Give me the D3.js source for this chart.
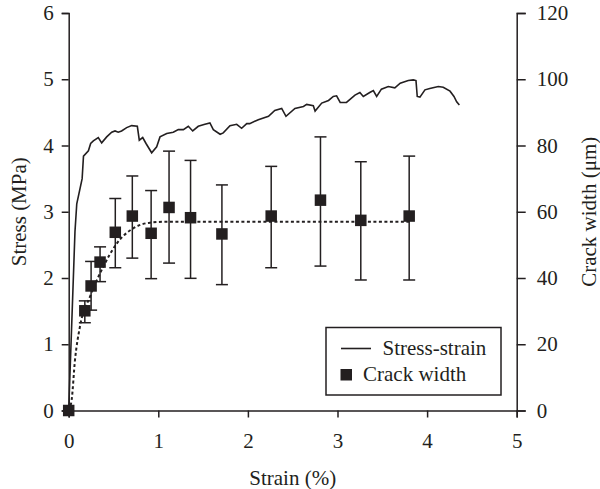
<!DOCTYPE html>
<html>

<head>
  <meta charset="utf-8">
  <script src="https://d3js.org/d3.v7.min.js"></script>
</head>
<style>
  body {
    margin: 0;
    background: #fff;
  }

  svg {
    width: 600px;
    height: 489px;
    display: block;
  }

  text {
    font-family: "Liberation Serif", "Times New Roman", serif;
    font-size: 21px;
    fill: #231f20;
  }

  .axis path,
  .axis line {
    stroke: #231f20;
    stroke-width: 1.5px;
  }

  .stress {
    fill: none;
    stroke: #231f20;
    stroke-width: 1.6px;
  }

  .fit {
    fill: none;
    stroke: #231f20;
    stroke-width: 2px;
    stroke-dasharray: 3 2.5;
  }

  .err {
    stroke: #231f20;
    stroke-width: 1.5px;
  }
</style>

<body>
  <svg id="chart"></svg>
  <script>
    // stress-strain curve: [strain %, stress MPa]
    const stressStrain = [
      [0, 0], [0.07, 2.7], [0.09, 3.12], [0.15, 3.5], [0.165, 3.84], [0.22, 3.92], [0.245, 4.03],
      [0.275, 4.07], [0.33, 4.12], [0.368, 4.04], [0.424, 4.13], [0.48, 4.2], [0.517, 4.22],
      [0.553, 4.2], [0.59, 4.22], [0.647, 4.27], [0.703, 4.3], [0.766, 4.29], [0.788, 4.08],
      [0.826, 4.12], [0.863, 4.03], [0.926, 3.89], [0.982, 3.98], [1.019, 4.13], [1.094, 4.18],
      [1.167, 4.2], [1.223, 4.24], [1.28, 4.24], [1.335, 4.29], [1.384, 4.22], [1.446, 4.29],
      [1.52, 4.32], [1.576, 4.34], [1.614, 4.24], [1.69, 4.17], [1.725, 4.19], [1.8, 4.3],
      [1.875, 4.32], [1.93, 4.26], [1.987, 4.33], [2.02, 4.33], [2.116, 4.39], [2.23, 4.44],
      [2.3, 4.53], [2.377, 4.56], [2.425, 4.44], [2.525, 4.56], [2.62, 4.59], [2.656, 4.62],
      [2.73, 4.6], [2.75, 4.52], [2.824, 4.64], [2.9, 4.68], [2.953, 4.74], [2.99, 4.75],
      [3.03, 4.65], [3.1, 4.65], [3.195, 4.76], [3.25, 4.8], [3.288, 4.74], [3.36, 4.8],
      [3.4, 4.83], [3.437, 4.74], [3.49, 4.85], [3.567, 4.89], [3.64, 4.87], [3.7, 4.94],
      [3.79, 4.98], [3.846, 4.99], [3.876, 4.98], [3.89, 4.74], [3.92, 4.73], [3.976, 4.84],
      [4.03, 4.86], [4.125, 4.89], [4.18, 4.88], [4.256, 4.82], [4.3, 4.74], [4.33, 4.66],
      [4.36, 4.61]
    ];

    // crack width: strain %, mean, low, high (um)
    const crackStrain = [0, 0.18, 0.25, 0.35, 0.52, 0.71, 0.92, 1.12, 1.36, 1.71, 2.26, 2.81, 3.26, 3.80];
    const crackMean = [0, 30.1, 37.6, 44.8, 53.8, 58.7, 53.5, 61.3, 58.2, 53.3, 58.7, 63.5, 57.4, 58.7];
    const crackLow = [0, 26.5, 30.3, 38.9, 43.1, 46, 39.8, 44.5, 39.9, 38, 43.1, 43.6, 39.4, 39.4];
    const crackHigh = [0, 33.1, 45, 49.4, 64, 70.8, 66.4, 78.3, 75.5, 68.1, 73.7, 82.6, 75.1, 76.8];

    // dotted fitted curve for crack width
    const fitStrain = [0, 0.033, 0.07, 0.126, 0.238, 0.386, 0.536, 0.72, 0.907, 1.1, 3.8];
    const fitWidth = [0, 3.2, 15.2, 25.4, 34.4, 43.4, 50.4, 55, 56.7, 57, 57];

    const xTicks = [0, 1, 2, 3, 4, 5];
    const yTicks = [0, 1, 2, 3, 4, 5, 6];
    const y2Ticks = [0, 20, 40, 60, 80, 100, 120];

    var svg = d3.select("#chart").attr("viewBox", "0 0 600 489");

    const margin = { left: 68.7, right: 83.3, top: 13, bottom: 78.5 }
    const width = 600
    const height = 489

    const x = d3.scaleLinear().domain([0, 5]).range([margin.left, width - margin.right]);
    const y = d3.scaleLinear().domain([0, 6]).range([height - margin.bottom, margin.top]);
    const y2 = d3.scaleLinear().domain([0, 120]).range([height - margin.bottom, margin.top]);

    function styleAxis(g) {
      g.attr("font-family", "Liberation Serif, serif").attr("font-size", 21);
      g.selectAll("text").attr("fill", "#231f20");
    }

    // axes
    svg.append("g")
      .attr("class", "axis")
      .attr("transform", `translate(0,${y(0)})`)
      .call(d3.axisBottom(x).tickValues(xTicks).tickSizeOuter(0).tickSize(7).tickPadding(16).tickFormat(d3.format("d")))
      .call(styleAxis);

    svg.append("g")
      .attr("class", "axis")
      .attr("transform", `translate(${x(0)},0)`)
      .call(d3.axisLeft(y).tickValues(yTicks).tickSizeOuter(0).tickSize(7).tickPadding(8).tickFormat(d3.format("d")))
      .call(styleAxis);

    svg.append("g")
      .attr("class", "axis")
      .attr("transform", `translate(${x(5)},0)`)
      .call(d3.axisRight(y2).tickValues(y2Ticks).tickSizeOuter(0).tickSize(9).tickPadding(11).tickFormat(d3.format("d")))
      .call(styleAxis);

    // axis titles
    svg.append("text")
      .attr("x", (x(0) + x(5)) / 2)
      .attr("y", 485)
      .attr("text-anchor", "middle")
      .text("Strain (%)");

    svg.append("text")
      .attr("transform", `translate(26,${(y(0) + y(6)) / 2}) rotate(-90)`)
      .attr("text-anchor", "middle")
      .text("Stress (MPa)");

    svg.append("text")
      .attr("transform", `translate(596,${(y(0) + y(6)) / 2}) rotate(-90)`)
      .attr("text-anchor", "middle")
      .text("Crack width (μm)");

    // stress-strain line
    const line = d3.line().x(d => x(d[0])).y(d => y(d[1]));
    svg.append("path")
      .attr("class", "stress")
      .attr("d", line(stressStrain));

    // fitted dotted curve
    const fitData = fitStrain.map((s, i) => [s, fitWidth[i]]);
    svg.append("path")
      .attr("class", "fit")
      .attr("d", d3.line().curve(d3.curveMonotoneX).x(d => x(d[0])).y(d => y2(d[1]))(fitData));

    // error bars
    const crack = crackStrain.map((s, i) => ({ s: s, m: crackMean[i], lo: crackLow[i], hi: crackHigh[i] }));
    const capW = 6;
    const bars = svg.append("g");
    crack.filter(d => d.hi > d.lo).forEach(function (d) {
      bars.append("line").attr("class", "err")
        .attr("x1", x(d.s)).attr("x2", x(d.s)).attr("y1", y2(d.lo)).attr("y2", y2(d.hi));
      bars.append("line").attr("class", "err")
        .attr("x1", x(d.s) - capW).attr("x2", x(d.s) + capW).attr("y1", y2(d.hi)).attr("y2", y2(d.hi));
      bars.append("line").attr("class", "err")
        .attr("x1", x(d.s) - capW).attr("x2", x(d.s) + capW).attr("y1", y2(d.lo)).attr("y2", y2(d.lo));
    });

    // markers
    const sq = 11.5;
    svg.append("g").selectAll("rect")
      .data(crack)
      .join("rect")
      .attr("x", d => x(d.s) - sq / 2)
      .attr("y", d => y2(d.m) - sq / 2)
      .attr("width", sq)
      .attr("height", sq)
      .attr("fill", "#231f20");

    // legend
    const legend = svg.append("g");
    legend.append("rect")
      .attr("x", 326).attr("y", 327.5)
      .attr("width", 175).attr("height", 67.5)
      .attr("fill", "#fff")
      .attr("stroke", "#231f20")
      .attr("stroke-width", 1.5);
    legend.append("line")
      .attr("x1", 341).attr("x2", 371).attr("y1", 348.5).attr("y2", 348.5)
      .attr("class", "stress");
    legend.append("text").attr("x", 382.5).attr("y", 355).text("Stress-strain");
    legend.append("rect")
      .attr("x", 340.5).attr("y", 369).attr("width", 11.5).attr("height", 11.5)
      .attr("fill", "#231f20");
    legend.append("text").attr("x", 363).attr("y", 381).text("Crack width");
  </script>
</body>

</html>
